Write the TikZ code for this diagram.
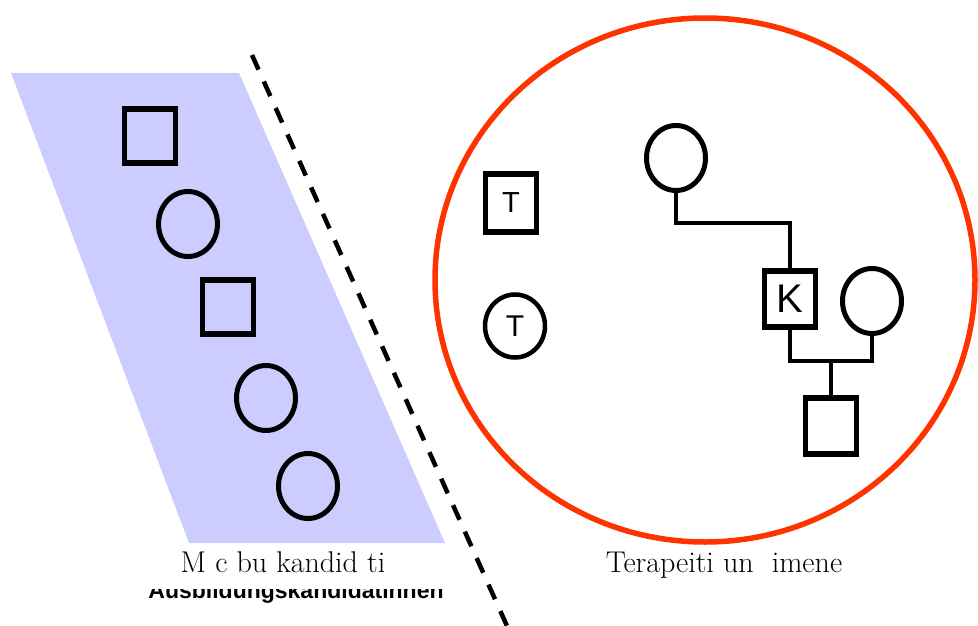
\documentclass[tikz,border=0pt]{standalone}
\usepackage{fontspec}
\newfontfamily\labelsans{Liberation Sans}
\usepackage{tikz}
\usetikzlibrary{shapes.geometric}
\definecolor{band}{HTML}{CCCCFF}
\definecolor{ring}{HTML}{FF3300}
\begin{document}
\begin{tikzpicture}[x=1pt, y=-1pt,
  male/.style={draw, line width=5.5pt, minimum width=51pt, minimum height=54pt, inner sep=0pt},
  female/.style={draw, ellipse, line width=5pt, minimum width=59pt, minimum height=65pt, inner sep=0pt},
  glyph/.style={font=\labelsans\fontsize{#1}{#1}\selectfont},
  link/.style={line width=3.5pt},
  caption/.style={anchor=base, font=\fontsize{30}{32}\selectfont},
]
\useasboundingbox (0,0) rectangle (978,626);
% candidates band and the dashed divider
\fill[band] (11,73) -- (239,73) -- (445,543) -- (189,543) -- cycle;
\draw[line width=4.5pt, dash pattern=on 16pt off 13pt] (252,55) -- (507,626);
\node[male] (c1) at (150,136) {};
\node[female] (c2) at (188,224) {};
\node[male] (c3) at (228,307) {};
\node[female] (c4) at (266,398) {};
\node[female] (c5) at (308,486) {};
% family inside the red ring
\draw[ring, line width=5.5pt] (705,280) ellipse [x radius=270, y radius=262];
\node[male, minimum height=58pt, glyph=29] (t1) at (511,203) {T};
\node[female, line width=4.5pt, minimum height=63pt, minimum width=60pt, glyph=30] (t2) at (515,326) {T};
\node[female] (gm) at (676,158) {};
\node[male, minimum height=56pt, glyph=40] (k) at (790,299) {K};
\node[female] (sp) at (872,301) {};
\node[male, minimum height=56pt] (ch) at (831,426) {};
\draw[link] (gm.south) -- ++(0,30) -| (k.north);
\draw[link] (k.south) -- ++(0,31) -| (sp.south);
\draw[link] (ch.north) -- ++(0,-34);
% captions
\node[caption] (lcap) at (283,572) {M c bu kandid ti};
\node[caption] (rcap) at (724,572) {Terapeiti un \ imene};
\begin{scope}
  \clip (140,589) rectangle (460,604);
  \node[anchor=base, font=\labelsans\bfseries\fontsize{23}{23}\selectfont] (lsub) at (296,598) {Ausbildungskandidatinnen};
\end{scope}
\end{tikzpicture}
\end{document}
